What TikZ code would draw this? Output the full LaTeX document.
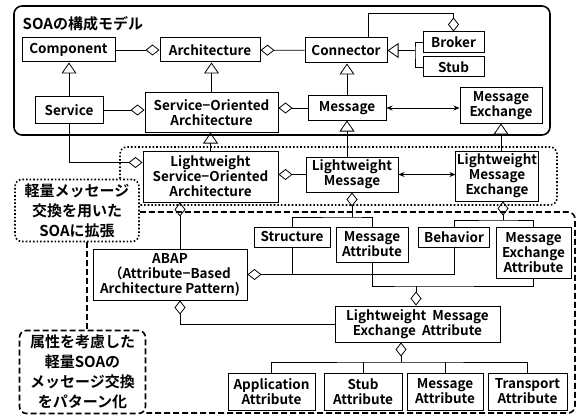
\documentclass[tikz,border=0pt]{standalone}
\usepackage{fontspec}
\setmainfont{Noto Sans CJK JP}[BoldFont={Noto Sans CJK JP Bold}]
\usetikzlibrary{arrows.meta}

\begin{document}
\begin{tikzpicture}[x=1pt, y=-1pt, line width=0.8pt,
    gen/.style={-{Triangle[open, length=11pt, width=15pt, line width=0.8pt]}},
    agg/.style={-{Diamond[open, length=14pt, width=11pt, line width=0.8pt]}},
    both/.style={{Stealth[length=6pt, width=5pt]}-{Stealth[length=6pt, width=5pt]}},
    dotframe/.style={line width=1.6pt, dash pattern=on 1.6pt off 2pt, rounded corners=7pt},
    dashframe/.style={line width=1.6pt, dash pattern=on 6pt off 3pt, rounded corners=7pt}]
            \useasboundingbox (0,0) rectangle (577,417);
            \draw[line width=1.6pt, rounded corners=8pt] (14,6) rectangle (550,135);
            \node[anchor=west, font=\bfseries\fontsize{15}{17}\selectfont] (ttl) at (19,24) {SOAの構成モデル};
            \begin{scope}[every node/.style={draw, line width=1pt, align=center, inner sep=1pt, font=\bfseries\fontsize{13.5}{15}\selectfont}]
            \node[minimum width=93, minimum height=24] (comp) at (68.5,50) {Component};
            \node[minimum width=100, minimum height=24] (arch) at (210,50) {Architecture};
            \node[minimum width=82, minimum height=25] (conn) at (346,50.5) {Connector};
            \node[minimum width=61, minimum height=21] (brk) at (453.5,42.5) {Broker};
            \node[minimum width=61, minimum height=20] (stub) at (453.5,67) {Stub};
            \node[minimum width=68, minimum height=26] (serv) at (69,110) {Service};
            \node[minimum width=133, minimum height=39] (soa) at (211.5,112.5) {Service−Oriented\\Architecture};
            \node[minimum width=78, minimum height=24] (msg) at (347,108) {Message};
            \node[minimum width=82, minimum height=35] (mex) at (501,105.5) {Message\\Exchange};
            \node[minimum width=135, minimum height=51] (lsoa) at (210.5,176.5) {Lightweight\\Service−Oriented\\Architecture};
            \node[minimum width=92, minimum height=35] (lmsg) at (352,174.5) {Lightweight\\Message};
            \node[minimum width=82, minimum height=50] (lmex) at (497,176) {Lightweight\\Message\\Exchange};
            \node[minimum width=154, minimum height=51] (abap) at (170,274.5) {ABAP\\（Attribute−Based\\Architecture Pattern)};
            \node[minimum width=76, minimum height=20] (str) at (292,237) {Structure};
            \node[minimum width=72, minimum height=35] (mattr) at (372,244.5) {Message\\Attribute};
            \node[minimum width=71, minimum height=20] (beh) at (454,237) {Behavior};
            \node[minimum width=75, minimum height=51] (mea) at (533.5,252.5) {Message\\Exchange\\Attribute};
            \node[minimum width=165, minimum height=36] (lmea) at (417.5,324) {Lightweight\ \ Message\\Exchange\ \ Attribute};
            \node[minimum width=87, minimum height=37] (app) at (271.5,391.5) {Application\\Attribute};
            \node[minimum width=78, minimum height=37] (sta) at (363,391.5) {Stub\\Attribute};
            \node[minimum width=76, minimum height=37] (msa) at (445,391.5) {Message\\Attribute};
            \node[minimum width=79, minimum height=37] (tra) at (527.5,391.5) {Transport\\Attribute};
            \end{scope}
            \begin{scope}[every node/.style={rounded corners=8pt, line width=1.6pt, align=center, inner sep=0pt, font=\bfseries\fontsize{15}{20}\selectfont}]
            \node[dotframe, draw, minimum width=124, minimum height=62] (n1) at (77,210.5) {軽量メッセージ\\交換を用いた\\SOAに拡張};
            \node[dashframe, draw, minimum width=126, minimum height=83] (n2) at (82.5,372) {属性を考慮した\\軽量SOAの\\メッセージ交換\\をパターン化};
            \end{scope}
            % region frames
            \draw[dotframe] (120,0 |- n1.north) -- (120,147) -- (557,147) -- (557,205) -- (n1.east |- 0,205);
            \draw[dashframe] (n1.east |- 0,212) -- (575,212) -- (575,413) -- (n2.east |- 0,413);
            \draw[dashframe] (87,0 |- n1.south) -- (87,0 |- n2.north);
            % generalisation
            \coordinate (fk) at (415,50.5);
            \coordinate (up) at (368,13);
            \draw[gen] (serv) -- (serv |- comp.south);
            \draw[gen] (soa) -- (soa |- arch.south);
            \draw[gen] (msg) -- (msg |- conn.south);
            \draw[gen] (fk) -- (conn.east);
            \draw (brk.west) -| (fk) |- (stub.west);
            \draw[gen] (lsoa) -- (lsoa |- soa.south);
            \draw[gen] (msg.south |- lmsg.north) -- (msg.south);
            \draw[gen] (mex.south |- lmex.north) -- (mex.south);
            % aggregation
            \draw[agg] (comp) -- (arch);
            \draw[agg] (conn) -- (arch);
            \draw[agg] (serv) -- (serv -| soa.west);
            \draw[agg] (msg) -- (msg -| soa.east);
            \draw[agg] (up |- conn.north) -- (up) -| (brk.north);
            \draw[agg] (serv.south) |- ([yshift=14pt]lsoa.west);
            \draw[agg] (lmsg) -- (lmsg -| lsoa.east);
            \draw[agg] ([xshift=10pt]abap.north) -- ([xshift=10pt]abap.north |- lsoa.south);
            \draw[both] (msg) -- (msg -| mex.west);
            \draw[both] (lmsg) -- (lmsg -| lmex.west);
            \coordinate (j1) at (352,217);
            \coordinate (j2) at (503,220);
            \coordinate (j3) at (416,286);
            \coordinate (j4) at (401,362);
            \draw (str.north) |- (j1) -| (mattr.north);
            \draw[agg] (j1) -- (lmsg.south);
            \draw (beh.north) |- (j2) -| (mea.north);
            \draw[agg] (j2) -- (j2 |- lmex.south);
            \draw[agg] (beh.south) |- (abap.east);
            \draw (str.south) -- (str.south |- abap.east);
            \draw (mattr.south) |- (j3) -| (mea.south);
            \draw[agg] (j3) -- (j3 |- lmea.north);
            \draw[agg] (lmea.west) -| ([xshift=10pt]abap.south);
            \draw (app.north) |- (j4) -| (tra.north);
            \draw (sta.north) -- (sta.north |- j4);
            \draw (msa.north) -- (msa.north |- j4);
            \draw[agg] (j4) -- (j4 |- lmea.south);
            \end{tikzpicture}
\end{document}
